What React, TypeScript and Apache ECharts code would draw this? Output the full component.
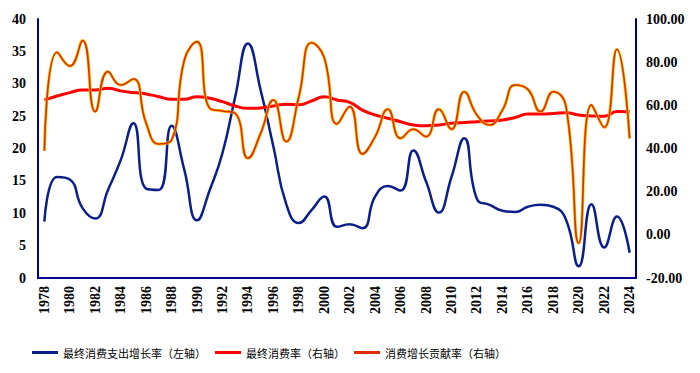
import React, { useEffect, useRef } from "react";
import * as echarts from "echarts";

const years: string[] = [];
for (let y = 1978; y <= 2024; y++) years.push(String(y));

const consumptionGrowth = [
  8.7, 15.6, 15.2, 10.8, 9.2, 13.6, 18.2, 23.9, 13.8, 13.6,
  23.5, 16.7, 8.9, 13.6, 19.3, 28.0, 36.2, 29.0, 20.3, 11.5,
  8.5, 10.5, 12.6, 7.9, 8.3, 7.7, 12.6, 14.2, 13.5, 19.7,
  14.9, 10.1, 15.6, 21.6, 12.2, 11.3, 10.4, 10.2, 11.0, 11.3,
  11.0, 9.0, 1.8, 11.4, 4.7, 9.5, 3.9,
];

const consumptionRate = [
  62.5, 64.3, 65.9, 67.1, 67.1, 67.9, 66.7, 65.9, 65.3, 64.0,
  62.8, 62.8, 64.0, 63.3, 61.7, 59.7, 58.6, 58.8, 59.7, 60.5,
  60.3, 62.0, 64.0, 62.5, 61.4, 57.8, 55.5, 54.0, 52.4, 50.9,
  50.5, 50.9, 51.7, 52.0, 52.4, 52.8, 53.2, 54.4, 56.0, 56.0,
  56.2, 56.6, 55.5, 55.1, 54.9, 57.1, 57.0,
];

const contributionRate = [
  39.0, 84.6, 78.2, 90.0, 57.1, 75.6, 69.4, 72.2, 51.7, 42.1,
  43.9, 81.0, 89.5, 58.6, 57.4, 56.3, 35.5, 47.0, 62.5, 43.2,
  64.0, 89.0, 82.0, 51.4, 59.4, 37.5, 45.5, 58.2, 44.7, 48.9,
  45.5, 58.2, 48.9, 66.3, 55.5, 50.9, 57.8, 69.4, 67.4, 57.1,
  66.3, 59.4, -3.9, 60.2, 49.8, 86.0, 44.7,
];

const names = [
  "最终消费支出增长率（左轴）",
  "最终消费率（右轴）",
  "消费增长贡献率（右轴）",
];

const NAVY = "#0B1F8A";
const AXIS = "#00008B";
const SERIF = "'Liberation Serif', 'Times New Roman', serif";

export default function App() {
  const ref = useRef<HTMLDivElement>(null);
  useEffect(() => {
    if (!ref.current) return;
    const chart = echarts.init(ref.current, undefined, { renderer: "svg" });
    const tickText = { fontFamily: SERIF, fontSize: 14, fontWeight: "bold", color: "#000" };
    chart.setOption({
      animation: false,
      backgroundColor: "#ffffff",
      grid: { left: 38, right: 64, top: 19, bottom: 95 },
      legend: {
        data: names,
        left: 27,
        top: 342,
        icon: "rect",
        itemWidth: 26,
        itemHeight: 3,
        itemGap: 9,
        textStyle: {
          fontFamily: "'Noto Sans CJK SC', sans-serif",
          fontSize: 11,
          color: "#000",
        },
      },
      xAxis: {
        type: "category",
        data: years,
        boundaryGap: true,
        axisLine: { lineStyle: { color: AXIS, width: 2 } },
        axisTick: { show: false },
        axisLabel: { interval: 1, rotate: 90, margin: 8, ...tickText },
      },
      yAxis: [
        {
          type: "value",
          min: 0,
          max: 40,
          interval: 5,
          splitLine: { show: false },
          axisLine: { show: true, lineStyle: { color: AXIS, width: 2 } },
          axisTick: { show: false },
          axisLabel: { margin: 12, ...tickText },
        },
        {
          type: "value",
          min: -20,
          max: 100,
          interval: 20,
          splitLine: { show: false },
          axisLine: { show: true, lineStyle: { color: AXIS, width: 2 } },
          axisTick: { show: false },
          axisLabel: {
            margin: 10,
            ...tickText,
            formatter: (v: number) => v.toFixed(2),
          },
        },
      ],
      series: [
        {
          name: names[0],
          type: "line",
          yAxisIndex: 0,
          data: consumptionGrowth,
          smooth: 0.5,
          symbol: "none",
          lineStyle: { color: NAVY, width: 2.5 },
          itemStyle: { color: NAVY },
        },
        {
          name: names[1],
          type: "line",
          yAxisIndex: 1,
          data: consumptionRate,
          smooth: 0.5,
          symbol: "none",
          lineStyle: { color: "#FF0000", width: 3 },
          itemStyle: { color: "#FF0000" },
        },
        {
          name: "contribution-glow",
          type: "line",
          yAxisIndex: 1,
          data: contributionRate,
          smooth: 0.5,
          symbol: "none",
          silent: true,
          lineStyle: { color: "#FFC000", width: 3 },
          itemStyle: { color: "#FFC000" },
        },
        {
          name: names[2],
          type: "line",
          yAxisIndex: 1,
          data: contributionRate,
          smooth: 0.5,
          symbol: "none",
          lineStyle: { color: "#D83000", width: 1.6 },
          itemStyle: { color: "#D83000" },
        },
      ],
    });
    return () => chart.dispose();
  }, []);
  return (
    <div
      ref={ref}
      style={{ position: "absolute", left: 0, top: 0, width: 700, height: 373 }}
    />
  );
}
